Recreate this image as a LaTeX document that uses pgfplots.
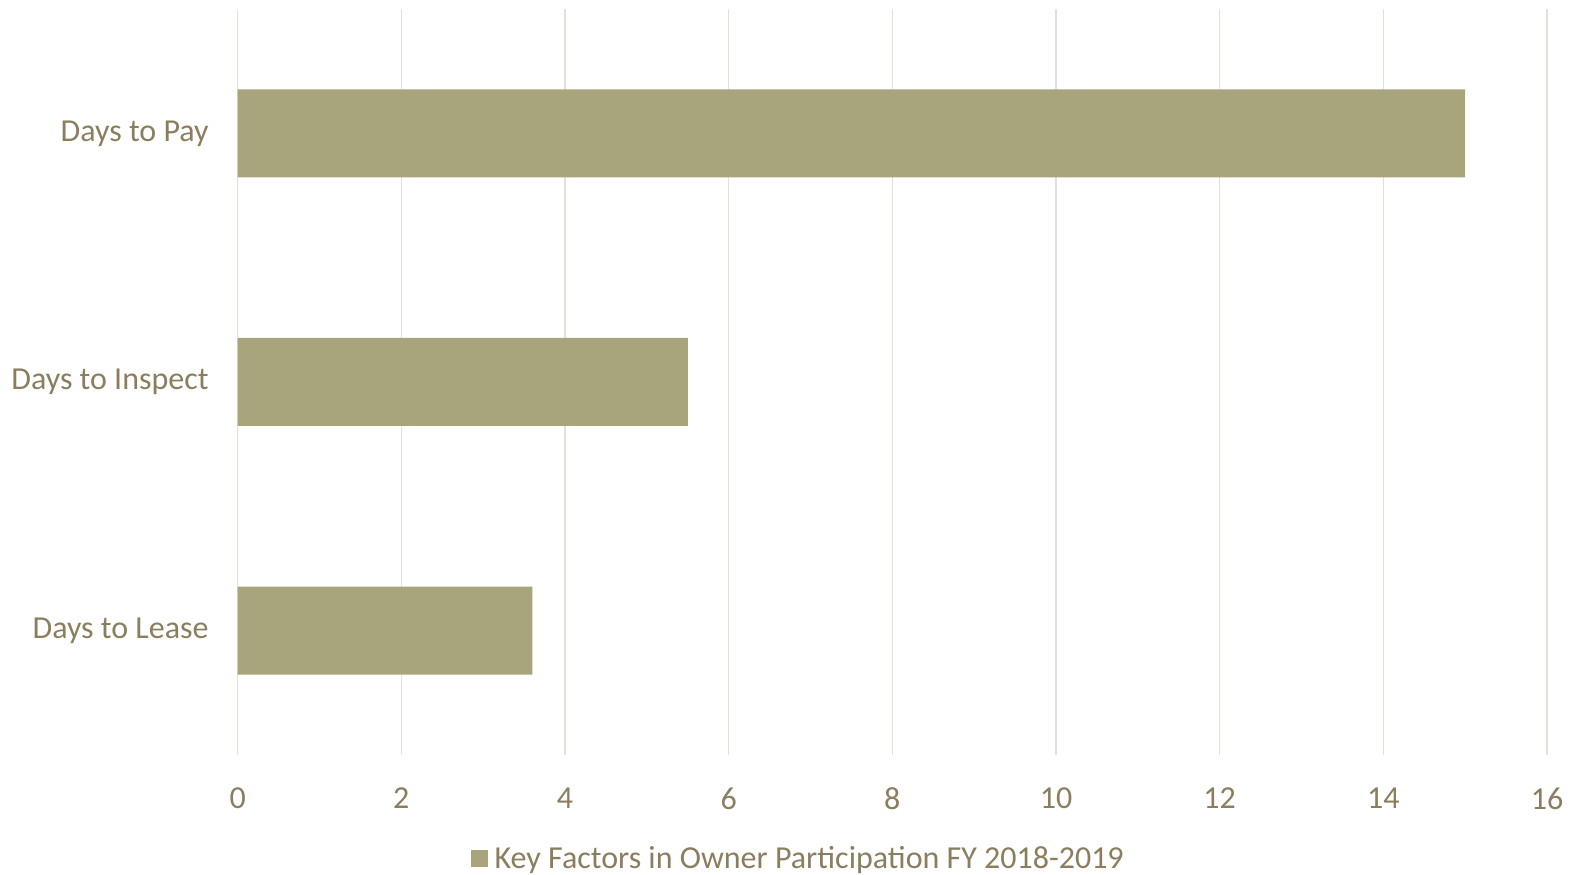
\documentclass[border=0pt]{standalone}
\usepackage{pgfplots}
\pgfplotsset{compat=1.18}
\usepackage{fontspec}
\setmainfont{Carlito}
\definecolor{txt}{RGB}{139,126,94}
\definecolor{barc}{RGB}{168,164,124}
\definecolor{gridc}{RGB}{228,225,218}
\begin{document}
\begin{tikzpicture}
\begin{axis}[
  at={(0,0)}, anchor=south west,
  scale only axis,
  width=654.7pt, height=373pt,
  xbar, bar width=44pt,
  xmin=0, xmax=16, ymin=-0.5, ymax=2.5,
  xtick={0,2,...,16},
  ytick={0,1,2},
  yticklabels={Days to Lease,Days to Inspect,Days to Pay},
  axis line style={draw=none},
  major tick length=0pt,
  xmajorgrids, major grid style={gridc, line width=0.75pt},
  /pgf/number format/assume math mode=true,
  tick label style={font=\fontsize{16}{19}\selectfont, text=txt},
  yticklabel style={xshift=-11pt},
  xticklabel style={yshift=-13pt},
  legend style={draw=none, fill=none, at={(0.43,-0.139)}, anchor=center,
    inner sep=0pt,
    font=\fontsize{16}{19}\selectfont, text=txt},
  legend image code/.code={\fill[barc] (0pt,-4.2pt) rectangle (8.5pt,4.2pt);},
  legend cell align=left,
  legend style={/tikz/every even column/.append style={column sep=0pt}},
  legend style={nodes={inner xsep=3.5pt}},
]
\addplot[fill=barc, draw=none] coordinates {(3.6,0) (5.5,1) (15,2)};
\addlegendentry{Key Factors in Owner Participation FY 2018-2019}
\end{axis}
\pgfresetboundingbox
\path[use as bounding box] (-118.85pt,-60pt) rectangle (669.7pt,377.5pt);
\end{tikzpicture}
\end{document}
